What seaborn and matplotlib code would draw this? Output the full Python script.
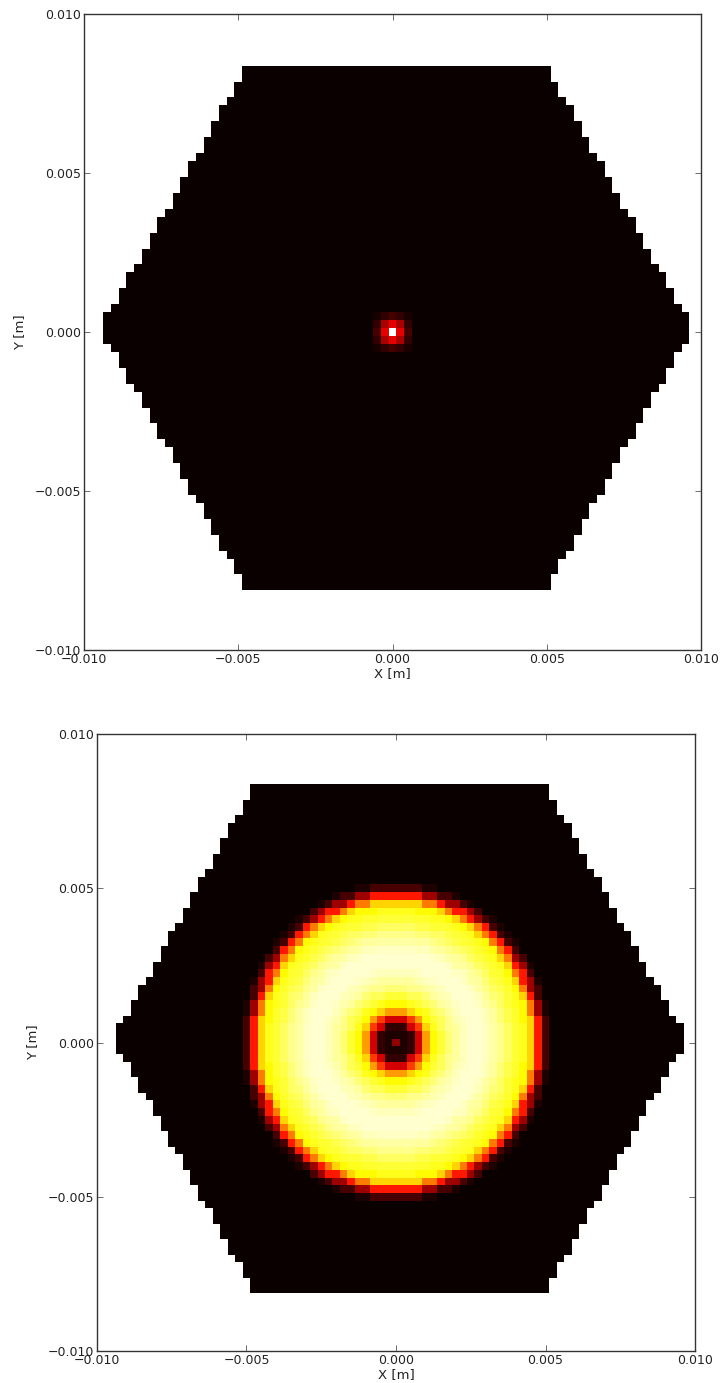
import numpy as np
import matplotlib
matplotlib.use("Agg")
import matplotlib.pyplot as plt
import seaborn as sns

# ---------------- data ----------------
cell_size = 0.00025            # m, pixel pitch of the detector grid
half_cells = 40                # grid runs from -40 to +40 cells
hex_radius = 0.0096            # m, circumradius of flat-top hexagon
hex_center = (0.000125, 0.000125)

tick_values = [-0.010, -0.005, 0.000, 0.005, 0.010]
tick_labels = ["\u22120.010", "\u22120.005", "0.000", "0.005", "0.010"]

# top panel: focused spot (5x5 cells around centre, normalised intensity)
spot_values = [
    [0.02, 0.06, 0.09, 0.06, 0.02],
    [0.06, 0.24, 0.33, 0.24, 0.06],
    [0.09, 0.33, 1.00, 0.33, 0.09],
    [0.06, 0.24, 0.33, 0.24, 0.06],
    [0.02, 0.06, 0.09, 0.06, 0.02],
]

# bottom panel: annulus intensity versus radius, sampled every half cell (0 .. 21.5 cells)
ring_profile = [0.20, 0.10, 0.03, 0.03, 0.06, 0.15, 0.30, 0.45, 0.60, 0.68,
                0.74, 0.77, 0.80, 0.83, 0.86, 0.88, 0.90, 0.92, 0.93, 0.94,
                0.95, 0.95, 0.95, 0.95, 0.94, 0.93, 0.91, 0.90, 0.88, 0.86,
                0.84, 0.82, 0.80, 0.79, 0.77, 0.74, 0.68, 0.55, 0.40, 0.22,
                0.09, 0.03, 0.00, 0.00]

# ---------------- build the cell fields ----------------
k = np.arange(-half_cells, half_cells + 1)
xs = k * cell_size
ys = -k * cell_size                       # row 0 is the top row
X, Y = np.meshgrid(xs, ys)
dx = np.abs(X - hex_center[0])
dy = np.abs(Y - hex_center[1])
inside = (dy <= hex_radius * np.sqrt(3) / 2) & (dx <= hex_radius - dy / np.sqrt(3))

n = len(k)
top = np.zeros((n, n))
c = half_cells
top[c - 2:c + 3, c - 2:c + 3] = np.array(spot_values)
top[~inside] = np.nan

I, J = np.meshgrid(k, k)
half_steps = np.rint(2 * np.sqrt(I ** 2 + J ** 2)).astype(int)
prof = np.array(ring_profile + [0.0])
bottom = prof[np.clip(half_steps, 0, len(ring_profile))]
bottom[~inside] = np.nan

# ---------------- plot ----------------
sns.set_style("white")
plt.rcParams["font.family"] = ["DejaVu Sans"]

fig = plt.figure(figsize=(7.2, 13.83), dpi=100)
ax1 = fig.add_axes([0.1167, 0.530, 0.857, 0.4599])
ax2 = fig.add_axes([0.1347, 0.0231, 0.8306, 0.4461])

def to_col(v):
    return v / cell_size + half_cells + 0.5

def to_row(v):
    return half_cells + 0.5 - v / cell_size

for ax, field in [(ax1, top), (ax2, bottom)]:
    sns.heatmap(field, ax=ax, cmap="hot", vmin=0, vmax=1, cbar=False,
                xticklabels=False, yticklabels=False, linewidths=0)
    ax.set_xlim(to_col(-0.010), to_col(0.010))
    ax.set_ylim(to_row(-0.010), to_row(0.010))
    ax.set_xticks([to_col(v) for v in tick_values])
    ax.set_xticklabels(tick_labels, fontsize=9, color="#222222")
    ax.set_yticks([to_row(v) for v in tick_values])
    ax.set_yticklabels(tick_labels, fontsize=9, color="#222222", rotation=0)
    for sp in ax.spines.values():
        sp.set_visible(True)
        sp.set_color("#333333")
        sp.set_linewidth(1.0)
    ax.tick_params(direction="in", length=4, width=0.6, top=True, right=True,
                   bottom=True, left=True, pad=2, colors="#555555",
                   labelcolor="#222222")
    ax.set_xlabel("X [m]", fontsize=9.5, color="#222222", labelpad=1)
    ax.set_ylabel("Y [m]", fontsize=9.5, color="#222222", labelpad=6)
    ax.set_facecolor("white")

fig.savefig("out.png", dpi=100)
